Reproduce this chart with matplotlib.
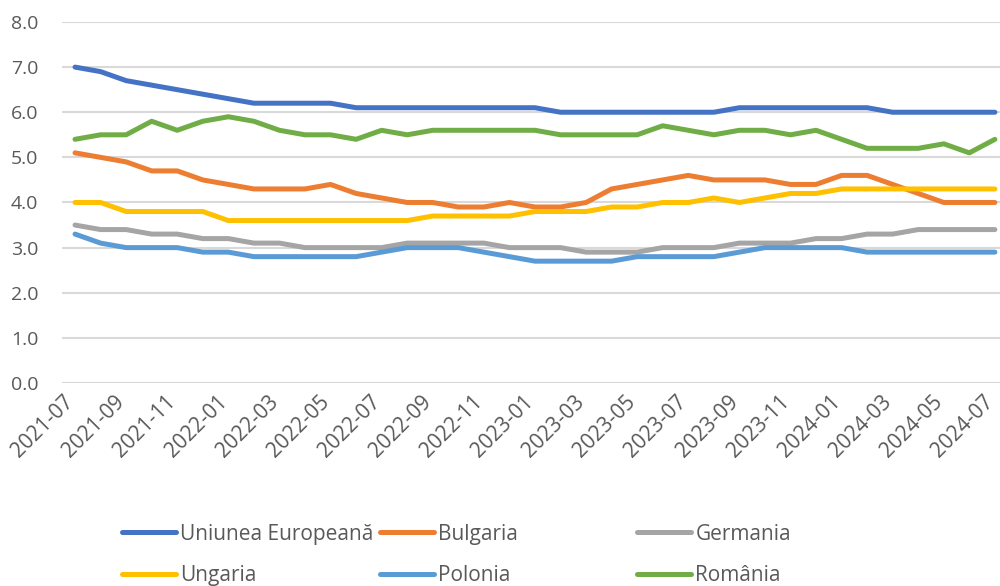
import matplotlib
matplotlib.use('Agg')
import matplotlib.pyplot as plt
import matplotlib.transforms as mtransforms
from matplotlib.lines import Line2D

# monthly data 2021-07 .. 2024-07
months = ['2021-07', '2021-08', '2021-09', '2021-10', '2021-11', '2021-12',
          '2022-01', '2022-02', '2022-03', '2022-04', '2022-05', '2022-06',
          '2022-07', '2022-08', '2022-09', '2022-10', '2022-11', '2022-12',
          '2023-01', '2023-02', '2023-03', '2023-04', '2023-05', '2023-06',
          '2023-07', '2023-08', '2023-09', '2023-10', '2023-11', '2023-12',
          '2024-01', '2024-02', '2024-03', '2024-04', '2024-05', '2024-06',
          '2024-07']

ue = [7.0, 6.9, 6.7, 6.6, 6.5, 6.4, 6.3, 6.2, 6.2, 6.2, 6.2, 6.1, 6.1,
      6.1, 6.1, 6.1, 6.1, 6.1, 6.1, 6.0, 6.0, 6.0, 6.0, 6.0, 6.0, 6.0,
      6.1, 6.1, 6.1, 6.1, 6.1, 6.1, 6.0, 6.0, 6.0, 6.0, 6.0]
bulgaria = [5.1, 5.0, 4.9, 4.7, 4.7, 4.5, 4.4, 4.3, 4.3, 4.3, 4.4, 4.2, 4.1,
            4.0, 4.0, 3.9, 3.9, 4.0, 3.9, 3.9, 4.0, 4.3, 4.4, 4.5, 4.6, 4.5,
            4.5, 4.5, 4.4, 4.4, 4.6, 4.6, 4.4, 4.2, 4.0, 4.0, 4.0]
germania = [3.5, 3.4, 3.4, 3.3, 3.3, 3.2, 3.2, 3.1, 3.1, 3.0, 3.0, 3.0, 3.0,
            3.1, 3.1, 3.1, 3.1, 3.0, 3.0, 3.0, 2.9, 2.9, 2.9, 3.0, 3.0, 3.0,
            3.1, 3.1, 3.1, 3.2, 3.2, 3.3, 3.3, 3.4, 3.4, 3.4, 3.4]
ungaria = [4.0, 4.0, 3.8, 3.8, 3.8, 3.8, 3.6, 3.6, 3.6, 3.6, 3.6, 3.6, 3.6,
           3.6, 3.7, 3.7, 3.7, 3.7, 3.8, 3.8, 3.8, 3.9, 3.9, 4.0, 4.0, 4.1,
           4.0, 4.1, 4.2, 4.2, 4.3, 4.3, 4.3, 4.3, 4.3, 4.3, 4.3]
polonia = [3.3, 3.1, 3.0, 3.0, 3.0, 2.9, 2.9, 2.8, 2.8, 2.8, 2.8, 2.8, 2.9,
           3.0, 3.0, 3.0, 2.9, 2.8, 2.7, 2.7, 2.7, 2.7, 2.8, 2.8, 2.8, 2.8,
           2.9, 3.0, 3.0, 3.0, 3.0, 2.9, 2.9, 2.9, 2.9, 2.9, 2.9]
romania = [5.4, 5.5, 5.5, 5.8, 5.6, 5.8, 5.9, 5.8, 5.6, 5.5, 5.5, 5.4, 5.6,
           5.5, 5.6, 5.6, 5.6, 5.6, 5.6, 5.5, 5.5, 5.5, 5.5, 5.7, 5.6, 5.5,
           5.6, 5.6, 5.5, 5.6, 5.4, 5.2, 5.2, 5.2, 5.3, 5.1, 5.4]

series = [
    ('Uniunea Europeană', ue, '#4472C4'),
    ('Bulgaria', bulgaria, '#ED7D31'),
    ('Germania', germania, '#A5A5A5'),
    ('Ungaria', ungaria, '#FFC000'),
    ('Polonia', polonia, '#5B9BD5'),
    ('România', romania, '#70AD47'),
]

plt.rcParams['font.family'] = ['Open Sans', 'DejaVu Sans']
text_color = '#595959'

fig = plt.figure(figsize=(10, 5.86), dpi=100)
ax = fig.add_axes([0.062, 0.3464, 0.938, 0.6161])

x = list(range(len(months)))
handles = []
for name, vals, col in series:
    ln, = ax.plot(x, vals, color=col, lw=3.6, solid_capstyle='round',
                  solid_joinstyle='round', label=name, zorder=3)
    handles.append(ln)

ax.set_ylim(0, 8)
ax.set_yticks([i for i in range(9)])
ax.set_yticklabels(['%.1f' % i for i in range(9)])
ax.set_xlim(-0.51, 36.2)
ax.set_xticks(x[::2])
ax.set_xticklabels(months[::2], rotation=45, ha='right', va='top')
ax.tick_params(axis='both', length=0, colors=text_color)
ax.tick_params(axis='y', pad=17, labelsize=14)
ax.tick_params(axis='x', pad=6, labelsize=15)
# nudge rotated labels slightly right, like Excel
shift = mtransforms.ScaledTranslation(3 / 100, 0, fig.dpi_scale_trans)
for lbl in ax.get_xticklabels():
    lbl.set_transform(lbl.get_transform() + shift)
ax.grid(axis='y', color='#D9D9D9', lw=1.5, zorder=0)
for s in ax.spines.values():
    s.set_visible(False)

# legend: 3 equal columns, 2 rows (Excel style)
col_x = [0.122, 0.3795, 0.637]
row_y = [0.0887, 0.0175]
for i, h in enumerate(handles):
    r, c = divmod(i, 3)
    proxy = Line2D([], [], color=h.get_color(), lw=3.6, solid_capstyle='round')
    fig.legend(handles=[proxy], labels=[h.get_label()], loc='center left',
               bbox_to_anchor=(col_x[c], row_y[r]), frameon=False,
               borderpad=0, borderaxespad=0, handlelength=2.6,
               handletextpad=0.2, fontsize=15, labelcolor=text_color)

fig.savefig('out.png', dpi=100)
